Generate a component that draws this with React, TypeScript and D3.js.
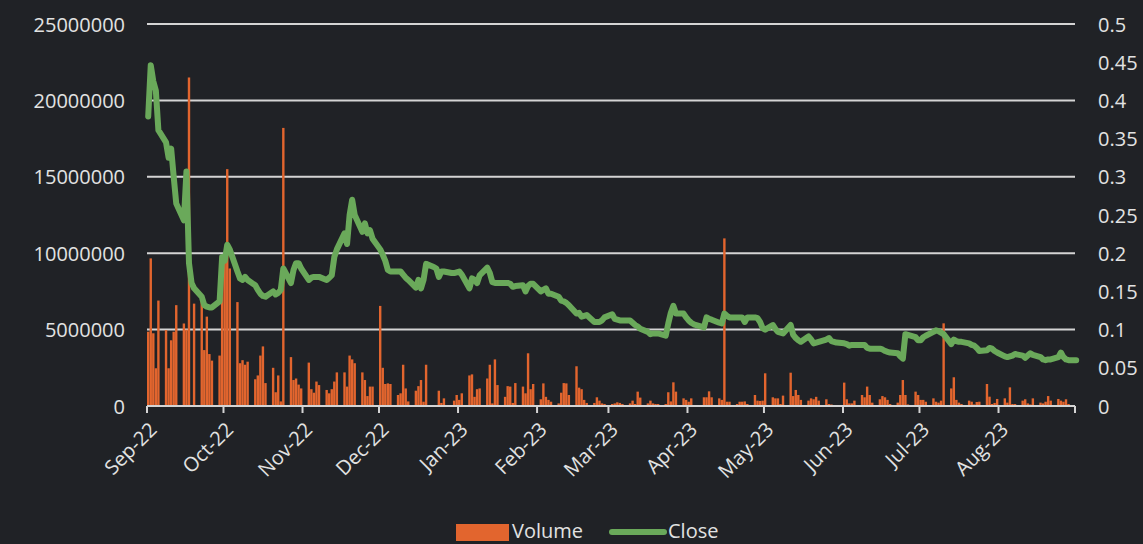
import React from "react";
import * as d3 from "d3";

// daily volume in millions, one row per trading week (Mon..Fri), Sep-22 .. Sep-23
const volumeM = [
  4.86, 9.66, 4.76, 2.47, 6.9,
  4.97, 2.47, 4.3, 4.86, 6.6,
  5.4, 5.0, 21.5, 0, 6.7,
  7.05, 3.66, 5.85, 3.4, 2.97,
  3.3, 9.8, 9.4, 15.5, 9.0,
  6.8, 2.8, 3.0, 2.7, 2.9,
  1.75, 2.0, 3.3, 3.9, 1.5,
  2.5, 0.9, 2.0, 0.3, 18.2,
  3.2, 1.7, 1.8, 1.4, 1.15,
  2.84, 1.1, 0.87, 1.6, 1.37,
  1.05, 0.83, 1.1, 1.6, 2.2,
  2.2, 1.27, 3.3, 3.05, 2.8,
  2.2, 1.7, 0.65, 1.27, 1.27,
  6.55, 2.5, 1.44, 1.48, 1.44,
  0.72, 0.83, 2.7, 1.15, 0.3,
  1.0, 1.3, 1.7, 0.28, 2.7,
  0, 0, 1.0, 0.2, 0.5,
  0, 0.35, 0.72, 0.4, 0.83,
  2.0, 2.07, 0.6, 1.1, 1.15,
  1.8, 2.7, 0.17, 3.05, 1.37,
  0.6, 1.3, 1.27, 0.2, 1.5,
  1.27, 0.83, 3.45, 1.1, 1.44,
  0.44, 1.48, 0.6, 0.4, 0.28,
  0.17, 0.87, 1.5, 1.48, 0.72,
  2.6, 1.2, 1.1, 0.4, 0.2,
  0.2, 0.57, 0.35, 0.17, 0.13,
  0.13, 0.17, 0.24, 0.2, 0.13,
  0.17, 0.35, 0.13, 0.94, 0.55,
  0.17, 0.35, 0.17, 0.13, 0.13,
  0.13, 0.9, 0.3, 1.55, 0.94,
  0.5, 0.4, 0.28, 0.5, 0,
  0, 0.57, 0.57, 0.96, 0.57,
  0.5, 0.4, 10.97, 0.28, 0.28,
  0.13, 0.28, 0.28, 0.3, 0.13,
  0.72, 0.35, 0.33, 0.35, 2.14,
  0.57, 0.5, 0.5, 0.13, 0.68,
  2.18, 0.65, 1.05, 0.72, 0.4,
  0.35, 0.5, 0.44, 0.6, 0.35,
  0.44, 0.13, 0.1, 0.05, 0.05,
  1.53, 0.44, 0.17, 0.17, 0.35,
  0.72, 0.57, 1.27, 0.72, 0.22,
  0.44, 0.65, 0.57, 0.4, 0.13,
  0.22, 0.72, 1.7, 0.72, 0.1,
  0.94, 0.72, 0.4, 0.4, 0.28,
  0.5, 0.28, 0.22, 0.35, 5.41,
  1.15, 1.88, 0.4, 0.22, 0.13,
  0.35, 0.28, 0.1, 0.26, 0.28,
  1.44, 0.61, 0.13, 0.2, 0.46,
  0.5, 0.22, 1.22, 0.13, 0.13,
  0.35, 0.44, 0.17, 0.1, 0.5,
  0.22, 0.17, 0.28, 0.65, 0.35,
  0.46, 0.35, 0.28, 0.44, 0.13,
  0.1,
];

const closeValues = [
  0.379, 0.446, 0.425, 0.413, 0.361,
  0.345, 0.325, 0.337, 0.3, 0.265,
  0.243, 0.307, 0.187, 0.161, 0.154,
  0.143, 0.132, 0.13, 0.129, 0.129,
  0.137, 0.195, 0.19, 0.211, 0.205,
  0.176, 0.167, 0.165, 0.169, 0.165,
  0.158, 0.152, 0.147, 0.144, 0.143,
  0.15, 0.146, 0.148, 0.152, 0.18,
  0.161, 0.178, 0.187, 0.187, 0.18,
  0.165, 0.168, 0.169, 0.169, 0.169,
  0.165, 0.168, 0.171, 0.195, 0.205,
  0.226, 0.212, 0.25, 0.27, 0.25,
  0.228, 0.239, 0.226, 0.23, 0.219,
  0.205, 0.198, 0.19, 0.178, 0.176,
  0.176, 0.176, 0.172, 0.168, 0.165,
  0.155, 0.165, 0.154, 0.165, 0.186,
  0.182, 0.18, 0.169, 0.176, 0.176,
  0.174, 0.174, 0.175, 0.176, 0.172,
  0.154, 0.167, 0.165, 0.161, 0.171,
  0.181, 0.174, 0.162, 0.161, 0.161,
  0.161, 0.161, 0.16, 0.156, 0.157,
  0.158, 0.15, 0.157, 0.16, 0.16,
  0.15, 0.152, 0.154, 0.147, 0.147,
  0.143, 0.138, 0.137, 0.135, 0.132,
  0.121, 0.122, 0.117, 0.118, 0.119,
  0.11, 0.11, 0.11, 0.112, 0.116,
  0.12, 0.114, 0.113, 0.112, 0.112,
  0.112, 0.109, 0.106, 0.104, 0.101,
  0.097, 0.094, 0.095, 0.095, 0.095,
  0.092, 0.108, 0.122, 0.131, 0.121,
  0.121, 0.116, 0.112, 0.109, 0.107,
  0.104, 0.103, 0.116, 0.114, 0.113,
  0.109, 0.108, 0.121, 0.118, 0.116,
  0.116, 0.116, 0.116, 0.11, 0.116,
  0.116, 0.115, 0.11, 0.102, 0.1,
  0.106, 0.101, 0.097, 0.096, 0.095,
  0.106, 0.093, 0.089, 0.086, 0.084,
  0.091, 0.087, 0.082, 0.083, 0.084,
  0.087, 0.089, 0.085, 0.084, 0.083,
  0.082, 0.081, 0.079, 0.08, 0.08,
  0.08, 0.08, 0.076, 0.075, 0.075,
  0.075, 0.074, 0.072, 0.071, 0.07,
  0.069, 0.065, 0.062, 0.094, 0.093,
  0.09, 0.086, 0.086, 0.09, 0.092,
  0.097, 0.099, 0.098, 0.096, 0.094,
  0.081, 0.087, 0.085, 0.084, 0.084,
  0.082, 0.08, 0.079, 0.076, 0.072,
  0.073, 0.076, 0.075, 0.072, 0.07,
  0.065, 0.064, 0.065, 0.066, 0.068,
  0.066, 0.063, 0.066, 0.069, 0.067,
  0.064, 0.061, 0.06, 0.061, 0.061,
  0.064, 0.07, 0.064, 0.061, 0.06,
  0.06,
];

const monthLabels = [
  "Sep-22", "Oct-22", "Nov-22", "Dec-22", "Jan-23", "Feb-23",
  "Mar-23", "Apr-23", "May-23", "Jun-23", "Jul-23", "Aug-23",
];
const volumeTicks = [0, 5000000, 10000000, 15000000, 20000000, 25000000];
const closeTicks = [0, 0.05, 0.1, 0.15, 0.2, 0.25, 0.3, 0.35, 0.4, 0.45, 0.5];

const startDate = new Date(2022, 8, 5);
const endDate = new Date(2023, 8, 4);

const W = 1143;
const H = 544;
const BG = "#202226";
const TEXT = "#e2e2e2";
const GRID = "#d4d4d4";
const ORANGE = "#e2652e";
const GREEN = "#6aa95a";
const FONT = "'Open Sans', sans-serif";

const App = () => {
  const margin = { top: 24, right: 68, bottom: 138, left: 147 };

  // trading days only (weekends are skipped, so bars come in groups of five)
  const days = d3
    .timeDay.range(startDate, d3.timeDay.offset(endDate, 1))
    .filter((d) => d.getDay() !== 0 && d.getDay() !== 6);
  const rows = days.map((d, i) => ({ date: d, volume: volumeM[i] * 1e6, close: closeValues[i] }));

  const x = d3.scaleTime().domain([startDate, endDate]).range([margin.left, W - margin.right]);
  const yVol = d3.scaleLinear().domain([0, 25000000]).range([H - margin.bottom, margin.top]);
  const yClose = d3.scaleLinear().domain([0, 0.5]).range([H - margin.bottom, margin.top]);

  const line = d3
    .line<{ date: Date; close: number }>()
    .x((d) => x(d.date) + 1.2)
    .y((d) => yClose(d.close));

  const tickDates = monthLabels.map((_, i) => d3.timeMonth.offset(startDate, i));
  const x0 = margin.left;
  const x1 = W - margin.right;
  const baseY = yVol(0);

  return (
    <svg
      width={W}
      height={H}
      style={{ position: "absolute", left: 0, top: 0, background: BG, fontFamily: FONT }}
    >
      <defs>
        <clipPath id="plot">
          <rect x={x0} y={0} width={x1 - x0} height={baseY} />
        </clipPath>
      </defs>
      <rect width={W} height={H} fill={BG} />

      {volumeTicks.map((t) => (
        <g key={t}>
          <line x1={x0} x2={x1} y1={yVol(t)} y2={yVol(t)} stroke={GRID} strokeWidth={2} />
          <text x={125} y={yVol(t) + 7.5} textAnchor="end" fill={TEXT} fontSize={20}>
            {t}
          </text>
        </g>
      ))}
      {closeTicks.map((t) => (
        <text key={t} x={1098} y={yClose(t) + 7.5} fill={TEXT} fontSize={20}>
          {t}
        </text>
      ))}

      <g clipPath="url(#plot)" fill={ORANGE}>
        {rows.map((d, i) => (
          <rect
            key={i}
            x={x(d.date)}
            y={yVol(d.volume)}
            width={2.4}
            height={baseY - yVol(d.volume)}
          />
        ))}
      </g>

      <line x1={x0} x2={x1} y1={baseY} y2={baseY} stroke={GRID} strokeWidth={2} />
      {[...tickDates.map((d) => x(d)), x1].map((tx, i) => (
        <line key={i} x1={tx} x2={tx} y1={baseY} y2={baseY + 7} stroke={GRID} strokeWidth={2} />
      ))}
      {tickDates.map((d, i) => (
        <text
          key={i}
          transform={`translate(${x(d) + 11},${baseY + 25}) rotate(-45)`}
          textAnchor="end"
          fill={TEXT}
          fontSize={20}
        >
          {monthLabels[i]}
        </text>
      ))}

      <path
        d={line(rows) || ""}
        fill="none"
        stroke={GREEN}
        strokeWidth={6}
        strokeLinejoin="round"
        strokeLinecap="round"
      />

      <g>
        <rect x={456} y={524} width={53} height={17} fill={ORANGE} />
        <text x={512} y={538} fill={TEXT} fontSize={20}>Volume</text>
        <line x1={612} x2={664} y1={532} y2={532} stroke={GREEN} strokeWidth={6} strokeLinecap="round" />
        <text x={668} y={538} fill={TEXT} fontSize={20}>Close</text>
      </g>
    </svg>
  );
};

export default App;
